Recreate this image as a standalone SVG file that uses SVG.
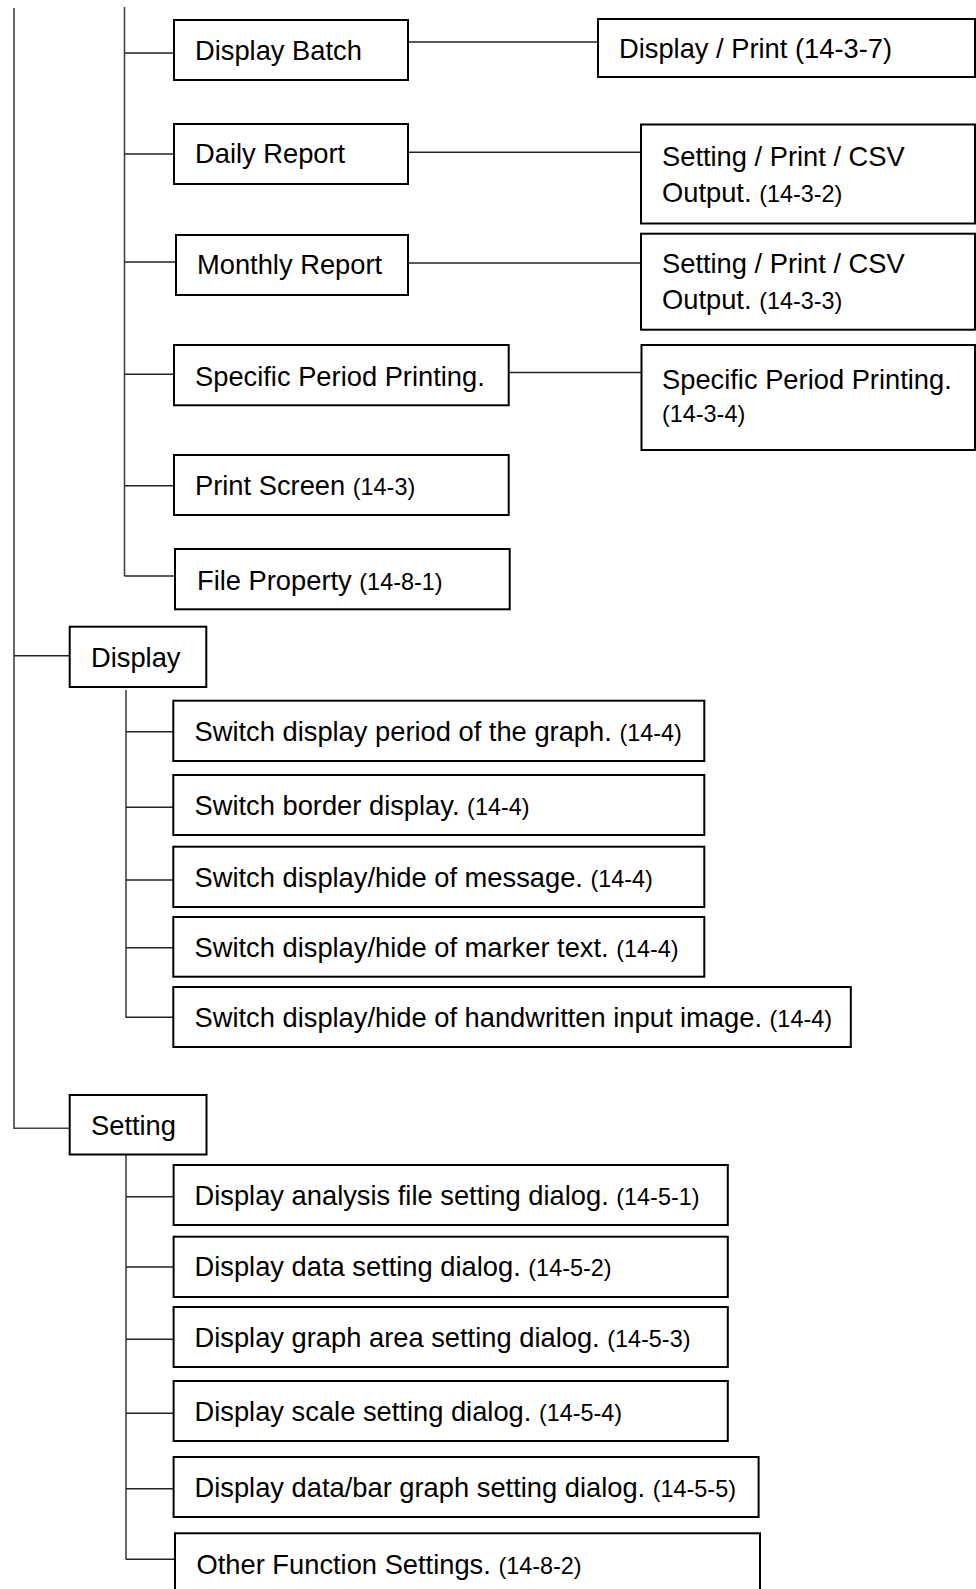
<svg xmlns="http://www.w3.org/2000/svg" width="976" height="1589" viewBox="0 0 976 1589">
<style>
  .box { fill: #ffffff; stroke: #000000; stroke-width: 2; }
  .ln { fill: none; stroke: #222222; stroke-width: 1.4; }
  .vl { fill: none; stroke: #444444; stroke-width: 1.6; }
  text { font-family: "Liberation Sans", Arial, sans-serif; font-size: 27.3px; fill: #000000; }
  .s { font-size: 23.4px; }
</style>
<rect x="0" y="0" width="976" height="1589" fill="#ffffff"/>
<g id="connectors">
  <path class="vl" d="M14,8 V1128.3 H69.7"/>
  <path class="vl" d="M124.5,7 V576"/>
  <path class="vl" d="M126,690 V1018"/>
  <path class="vl" d="M126,1155 V1559.5"/>
  <path class="ln" d="M124.5,53 H174"/>
  <path class="ln" d="M408,42 H598"/>
  <path class="ln" d="M124.5,154 H174"/>
  <path class="ln" d="M408,152.3 H641"/>
  <path class="ln" d="M124.5,262 H176"/>
  <path class="ln" d="M408,263 H641"/>
  <path class="ln" d="M124.5,374.3 H174"/>
  <path class="ln" d="M508.7,372.5 H641.5"/>
  <path class="ln" d="M124.5,485.7 H174"/>
  <path class="ln" d="M124.5,576 H175"/>
  <path class="ln" d="M14,655.7 H69.7"/>
  <path class="ln" d="M126,731.7 H173.3"/>
  <path class="ln" d="M126,807.3 H173.3"/>
  <path class="ln" d="M126,880 H173.3"/>
  <path class="ln" d="M126,947.7 H173.3"/>
  <path class="ln" d="M126,1017.3 H173.3"/>
  <path class="ln" d="M126,1196.7 H173.6"/>
  <path class="ln" d="M126,1267 H173.6"/>
  <path class="ln" d="M126,1339.3 H173.6"/>
  <path class="ln" d="M126,1413.3 H173.6"/>
  <path class="ln" d="M126,1488.7 H173.6"/>
  <path class="ln" d="M126,1559.3 H175"/>
</g>
<g id="display-batch"><rect class="box" x="174" y="20" width="234" height="60"/><text x="195" y="60">Display Batch</text></g>
<g id="display-print"><rect class="box" x="598" y="19" width="377" height="58"/><text x="619" y="58">Display / Print (14-3-7)</text></g>
<g id="daily-report"><rect class="box" x="174" y="124" width="234" height="60"/><text x="195" y="163">Daily Report</text></g>
<g id="daily-output"><rect class="box" x="641" y="124.5" width="334" height="99"/><text x="662" y="165.7">Setting / Print / CSV</text><text x="662" y="201.7">Output. <tspan class="s">(14-3-2)</tspan></text></g>
<g id="monthly-report"><rect class="box" x="176" y="235" width="232" height="60"/><text x="197" y="274">Monthly Report</text></g>
<g id="monthly-output"><rect class="box" x="641" y="233.7" width="334" height="96"/><text x="662" y="272.7">Setting / Print / CSV</text><text x="662" y="309.3">Output. <tspan class="s">(14-3-3)</tspan></text></g>
<g id="specific-period"><rect class="box" x="174" y="345" width="334.7" height="60.3"/><text x="195" y="385.7">Specific Period Printing.</text></g>
<g id="specific-period-print"><rect class="box" x="641.5" y="345" width="333.5" height="105"/><text x="662" y="389">Specific Period Printing.</text><text class="s" x="662" y="422">(14-3-4)</text></g>
<g id="print-screen"><rect class="box" x="174" y="455" width="334.7" height="60"/><text x="195" y="495">Print Screen <tspan class="s">(14-3)</tspan></text></g>
<g id="file-property"><rect class="box" x="175" y="549" width="334.7" height="60.3"/><text x="197" y="590">File Property <tspan class="s">(14-8-1)</tspan></text></g>
<g id="display"><rect class="box" x="69.7" y="626.7" width="136.6" height="60.3"/><text x="91" y="666.7">Display</text></g>
<g id="switch-period"><rect class="box" x="173.3" y="700.7" width="531" height="60.3"/><text x="194.5" y="740.5">Switch display period of the graph. <tspan class="s">(14-4)</tspan></text></g>
<g id="switch-border"><rect class="box" x="173.3" y="775" width="531" height="60"/><text x="194.5" y="814.5">Switch border display. <tspan class="s">(14-4)</tspan></text></g>
<g id="switch-message"><rect class="box" x="173.3" y="846.7" width="531" height="60.3"/><text x="194.5" y="886.5">Switch display/hide of message. <tspan class="s">(14-4)</tspan></text></g>
<g id="switch-marker"><rect class="box" x="173.3" y="917" width="531" height="59.7"/><text x="194.5" y="956.5">Switch display/hide of marker text. <tspan class="s">(14-4)</tspan></text></g>
<g id="switch-handwritten"><rect class="box" x="173.3" y="987" width="677.5" height="60"/><text x="194.5" y="1026.7">Switch display/hide of handwritten input image. <tspan class="s">(14-4)</tspan></text></g>
<g id="setting"><rect class="box" x="69.7" y="1095" width="136.8" height="59.5"/><text x="91" y="1135">Setting</text></g>
<g id="setting-analysis"><rect class="box" x="173.6" y="1165" width="554.2" height="60"/><text x="194.5" y="1204.5">Display analysis file setting dialog. <tspan class="s">(14-5-1)</tspan></text></g>
<g id="setting-data"><rect class="box" x="173.6" y="1236.7" width="554.2" height="60.3"/><text x="194.5" y="1275.5">Display data setting dialog. <tspan class="s">(14-5-2)</tspan></text></g>
<g id="setting-graph-area"><rect class="box" x="173.6" y="1307" width="554.2" height="60"/><text x="194.5" y="1346.7">Display graph area setting dialog. <tspan class="s">(14-5-3)</tspan></text></g>
<g id="setting-scale"><rect class="box" x="173.6" y="1381" width="554.2" height="60"/><text x="194.5" y="1420.7">Display scale setting dialog. <tspan class="s">(14-5-4)</tspan></text></g>
<g id="setting-bar-graph"><rect class="box" x="173.6" y="1457" width="585" height="60"/><text x="194.5" y="1496.7">Display data/bar graph setting dialog. <tspan class="s">(14-5-5)</tspan></text></g>
<g id="setting-other"><rect class="box" x="175" y="1533.3" width="585" height="70"/><text x="196.5" y="1574">Other Function Settings. <tspan class="s">(14-8-2)</tspan></text></g>
</svg>
